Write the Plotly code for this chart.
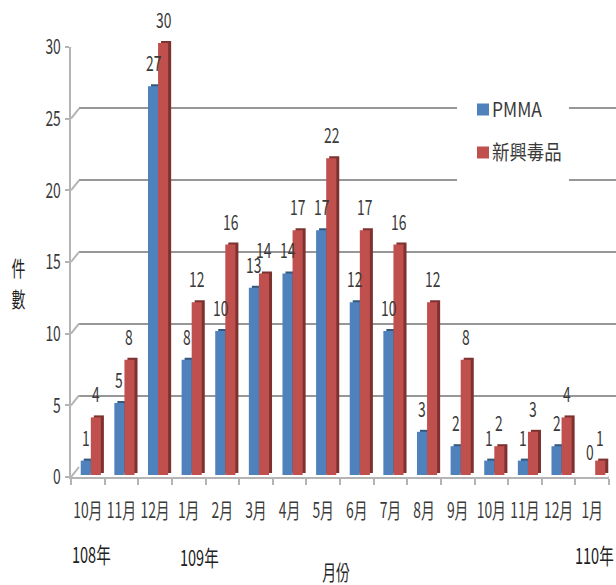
import plotly.graph_objects as go

months = ["10月", "11月", "12月", "1月", "2月", "3月", "4月", "5月",
          "6月", "7月", "8月", "9月", "10月", "11月", "12月", "1月"]
pmma = [1, 5, 27, 8, 10, 13, 14, 17, 12, 10, 3, 2, 1, 1, 2, 0]
new_drugs = [4, 8, 30, 12, 16, 14, 17, 22, 17, 16, 12, 8, 2, 3, 4, 1]
y_ticks = [0, 5, 10, 15, 20, 25, 30]

W, H = 616, 585
FONT = "Noto Sans CJK TC, sans-serif"
TEXT = "#3a3a3a"
BLUE, BLUE_DARK = "#4f81bd", "#34597f"
RED, RED_DARK = "#c0504d", "#7e3230"

positions = list(range(len(months)))


def xdom(left, right):
    return [left / W, right / W]


def ydom(bottom, top):
    return [1 - bottom / H, 1 - top / H]


fig = go.Figure()

# empty traces so the back wall and the front axes get drawn first
fig.add_trace(go.Scatter(x=[], y=[], xaxis="x", yaxis="y", showlegend=False))
fig.add_trace(go.Scatter(x=[], y=[], xaxis="x2", yaxis="y2", showlegend=False))

# dark copies sit a little up and to the right, this gives the 3d side and top
for name, vals, col, ax in [
    ("PMMA", pmma, BLUE_DARK, ("x3", "y3")),
    ("新興毒品", new_drugs, RED_DARK, ("x3", "y3")),
    ("PMMA", pmma, BLUE, ("x4", "y4")),
    ("新興毒品", new_drugs, RED, ("x4", "y4")),
]:
    fig.add_trace(go.Bar(
        x=positions, y=vals, name=name, marker=dict(color=col, line_width=0),
        xaxis=ax[0], yaxis=ax[1], showlegend=ax[0] == "x4",
        legendgroup=name,
    ))

hidden = dict(showgrid=False, zeroline=False, showticklabels=False, ticks="",
              showline=False, automargin=False)
x_range = [-0.5, len(months) - 0.5]

fig.update_layout(
    width=W, height=H, autosize=False,
    margin=dict(l=0, r=0, t=0, b=0),
    paper_bgcolor="white", plot_bgcolor="rgba(0,0,0,0)",
    font=dict(family=FONT, color=TEXT, size=21),
    barmode="group", bargap=0.4, bargroupgap=0,
    # back wall gridlines
    xaxis=dict(domain=xdom(79, 616), range=x_range, anchor="y", **hidden),
    yaxis=dict(domain=ydom(468, 36), range=[0, 30], anchor="x", showgrid=True,
               gridcolor="#979797", gridwidth=2, zeroline=False, automargin=False,
               showticklabels=False, ticks="", tickvals=y_ticks),
    # front axes with the labels
    xaxis2=dict(domain=xdom(71, 609), range=x_range, anchor="y2", showgrid=False,
                zeroline=False, showline=True, linecolor="#b4b4b4", linewidth=2,
                automargin=False, tickangle=0,
                tickvals=positions, ticktext=months, ticks="",
                ticklabelstandoff=14, tickfont=dict(size=21),
                minor=dict(tickvals=[p - 0.5 for p in positions] + [x_range[1]],
                           ticks="outside", ticklen=6, tickcolor="#b4b4b4", tickwidth=2)),
    yaxis2=dict(domain=ydom(477, 47), range=[0, 30], anchor="x2", showgrid=False,
                zeroline=False, showline=True, linecolor="#b4b4b4", linewidth=2,
                automargin=False,
                tickvals=y_ticks, ticks="outside", ticklen=4, tickcolor="#b4b4b4",
                tickwidth=2, tickfont=dict(size=21)),
    # bars and their dark copies
    xaxis3=dict(domain=xdom(77, 615), range=x_range, anchor="y3", **hidden),
    yaxis3=dict(domain=ydom(473, 41), range=[0, 30], anchor="x3", **hidden),
    xaxis4=dict(domain=xdom(74, 612), range=x_range, anchor="y4", **hidden),
    yaxis4=dict(domain=ydom(475, 43), range=[0, 30], anchor="x4", **hidden),
    legend=dict(x=452 / W, y=1 - 90 / H, xanchor="left", yanchor="top",
                bgcolor="rgba(0,0,0,0)", font=dict(size=20),
                tracegroupgap=14, itemwidth=30),
)

# diagonal joins between the front axis and the back wall
for t in y_ticks:
    fig.add_shape(type="line", xref="x2", yref="y2",
                  xsizemode="pixel", ysizemode="pixel",
                  xanchor=x_range[0], yanchor=t,
                  x0=0, x1=8, y0=0, y1=10,
                  line=dict(color="#b4b4b4", width=2))
fig.add_shape(type="line", xref="x2", yref="y2",
              xsizemode="pixel", ysizemode="pixel",
              xanchor=x_range[1], yanchor=0,
              x0=0, x1=8, y0=0, y1=10,
              line=dict(color="#b4b4b4", width=2))

# white patch behind the legend, it breaks the gridlines
fig.add_shape(type="rect", xref="paper", yref="paper", layer="above",
              x0=457 / W, x1=569 / W, y0=1 - 183 / H, y1=1 - 72 / H,
              fillcolor="white", line_width=0)

# value labels
for i in positions:
    for vals, off in [(pmma, -0.15), (new_drugs, 0.15)]:
        fig.add_annotation(x=i + off, y=vals[i], xref="x4", yref="y4",
                           text=str(vals[i]), showarrow=False, yshift=24,
                           font=dict(size=21, color=TEXT))

# year marks and axis titles
for txt, px, py, size in [("108年", 91, 553, 22), ("109年", 199, 556, 22),
                          ("110年", 594, 554, 22), ("月份", 336, 571, 21),
                          ("件", 18, 267, 21), ("數", 18, 298, 21)]:
    fig.add_annotation(x=px / W, y=1 - py / H, xref="paper", yref="paper",
                       xanchor="center", yanchor="middle",
                       text=txt, showarrow=False, font=dict(size=size, color="#222222"))

# the source picture was squeezed sideways, so squeeze the text the same way
# and pull the legend swatches closer to their labels
squeeze = """
document.body.style.margin = '0';
document.querySelectorAll('svg text').forEach(function (t) {
    if (!t.textContent) return;
    var k = t.closest('.legend') ? 0.87 : 0.66;
    t.setAttribute('textLength', t.getComputedTextLength() * k);
    t.setAttribute('lengthAdjust', 'spacingAndGlyphs');
});
document.querySelectorAll('.legend .legendpoints').forEach(function (g) {
    g.setAttribute('transform', 'translate(11,0)');
});
"""
fig.write_html("out.html", post_script=squeeze, config=dict(displayModeBar=False))
